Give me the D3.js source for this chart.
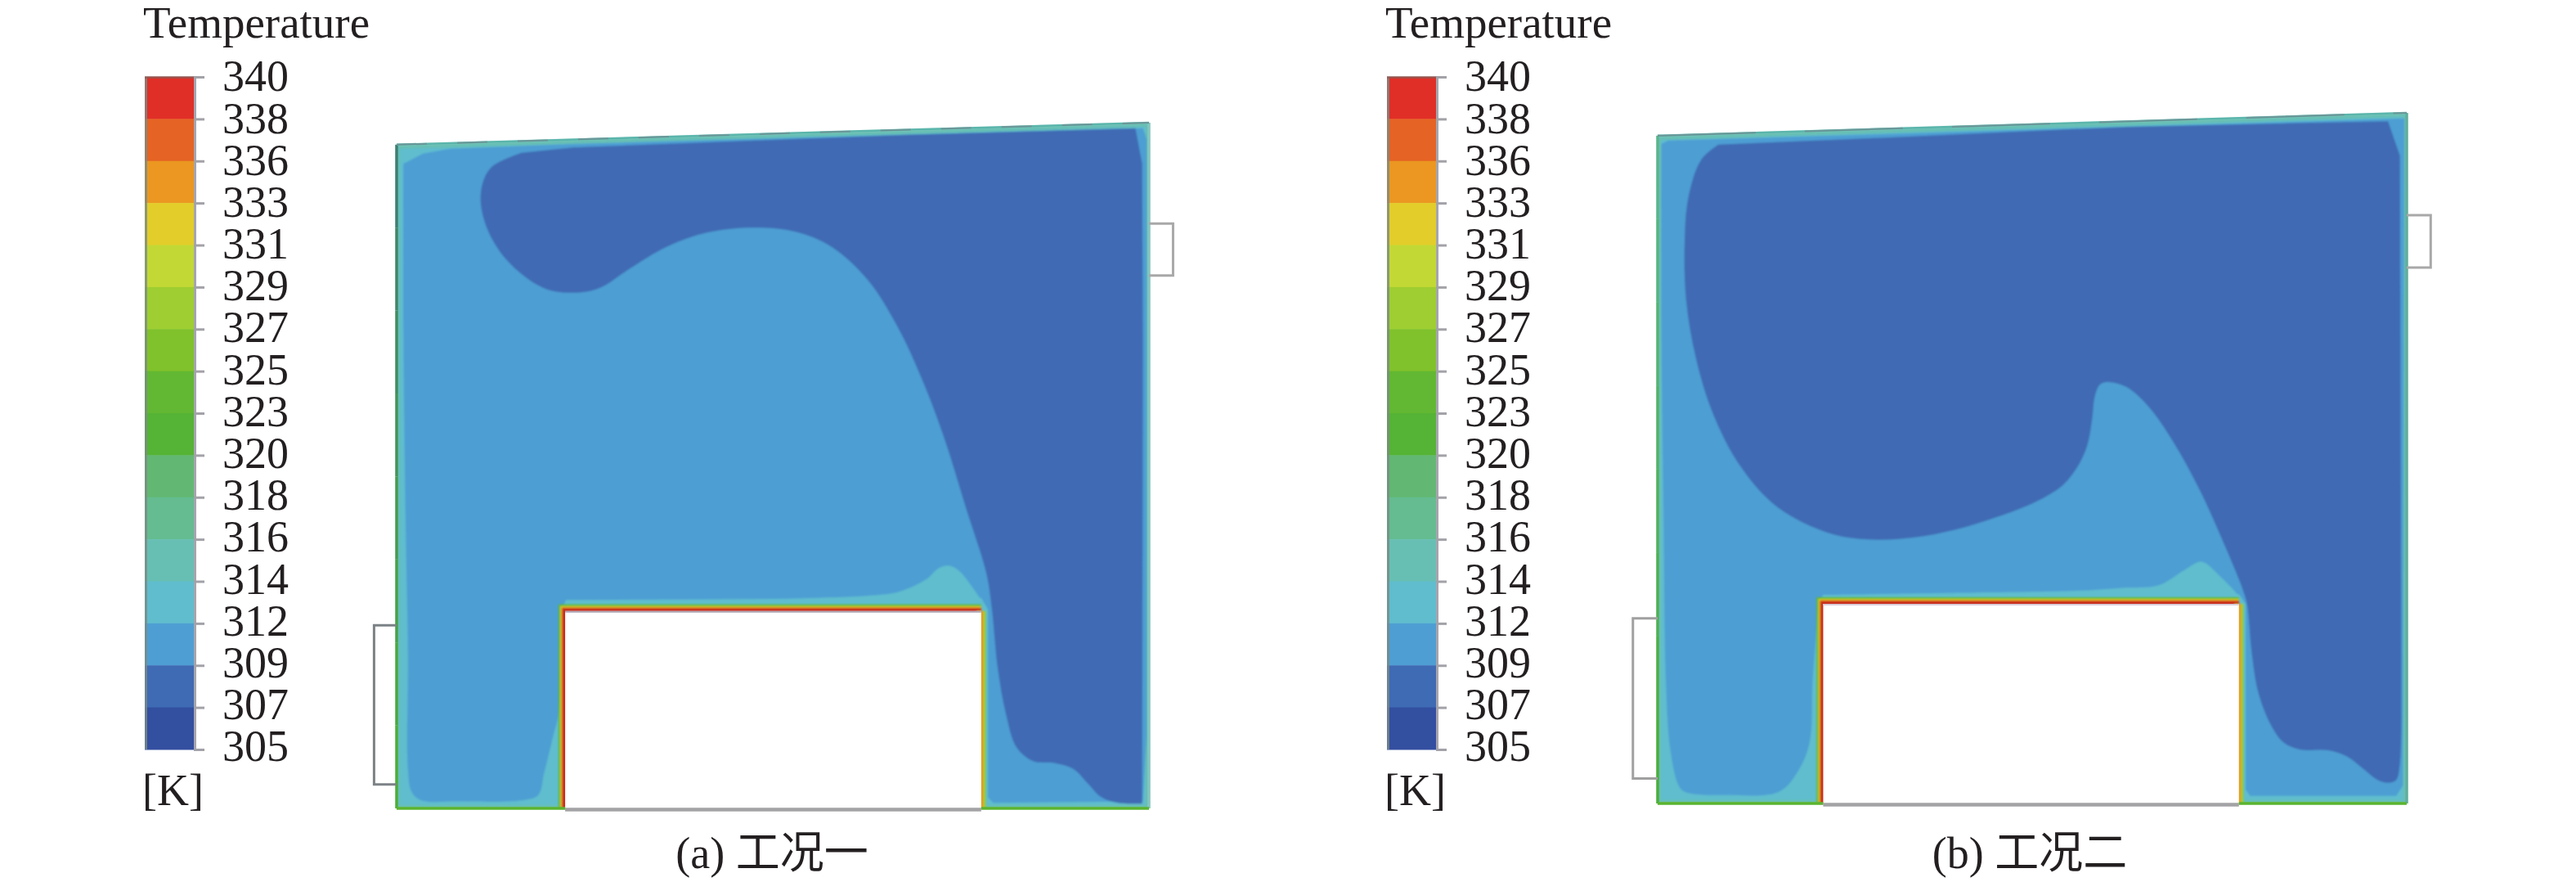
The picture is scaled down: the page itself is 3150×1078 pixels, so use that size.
<!DOCTYPE html>
<html>
<head>
<meta charset="utf-8">
<script src="https://cdn.jsdelivr.net/npm/d3@7"></script>
<style>
  html, body { margin: 0; background: #fff; }
  svg { display: block; }
  text { font-family: "Liberation Serif", "Noto Sans CJK SC", serif; fill: #231f20; }
</style>
</head>
<body>
<svg id="chart" width="3150" height="1078"></svg>
<script>
// legend: temperature labels, top to bottom, and one colour per band between them
const tempLabels = [340, 338, 336, 333, 331, 329, 327, 325, 323, 320, 318, 316, 314, 312, 309, 307, 305];
const bandColors = ["#e02f27", "#e56324", "#eb9721", "#e2cd2a", "#c2d935", "#9ece31", "#80c22b", "#62b832",
  "#55b335", "#62b872", "#64bc90", "#67bfb3", "#5fbdce", "#4e9ed3", "#3f6ab4", "#334fa0"];
const captions = ["(a) 工况一", "(b) 工况二"];

// contours are [x, y] in percent of the panel width / height
// Smooth = read along the curved part, Edge = straight run along the walls
const oneDarkSmooth = [[16.6, 95.6], [12.5, 93.4], [11.2, 89.9], [11.8, 85.2], [14.6, 80.0], [19.5, 75.9], [23.5, 75.2],
  [27.0, 75.9], [31.1, 78.8], [35.9, 81.9], [41.4, 84.0], [47.5, 84.7], [53.0, 84.1], [57.8, 81.9], [62.6, 77.1],
  [66.7, 70.0], [70.2, 61.6], [72.9, 53.6], [75.7, 43.7], [78.4, 34.2], [79.1, 29.2], [79.9, 20.4], [81.0, 13.7],
  [82.4, 8.9], [84.6, 6.9], [87.5, 6.6], [90.0, 5.7], [91.8, 3.7], [93.7, 1.6], [95.9, 0.8], [99.1, 0.7]];
const oneDarkEdge = [[99.2, 67.8], [99.1, 94.0], [98.2, 99.2], [66.8, 98.2], [23.4, 96.4]];
const oneMidSmooth = [[0.9, 94.0], [0.9, 70.2], [1.2, 41.5], [1.5, 22.4], [1.5, 5.7], [2.0, 2.4], [3.2, 1.2], [8.2, 1.0],
  [16.8, 1.2], [18.8, 1.9], [19.6, 5.1], [20.8, 10.5], [21.6, 14.1], [21.8, 22.4], [22.0, 29.0]];
const oneMidEdge = [[22.5, 30.4], [77.7, 30.7], [78.6, 29.0], [78.6, 1.6], [79.3, 0.8], [99.2, 1.0], [99.7, 10.5],
  [99.7, 97.6], [99.2, 99.2], [23.4, 96.9], [7.1, 96.2], [3.5, 95.5]];
const oneBump = [[22.5, 30.2], [45.1, 30.4], [56.0, 30.7], [62.5, 31.0], [66.8, 31.6], [70.4, 33.4], [72.0, 35.0],
  [73.4, 35.4], [74.8, 34.6], [76.3, 32.6], [77.7, 30.4]];
const oneOutline = [[0, 96.8], [100, 100], [100, 0], [0, 0]];
const oneObstacle = [[22.4, 0], [22.4, 28.8], [77.7, 28.8], [77.7, 0]];
const oneBrackets = [[[0, 26.7], [-3.0, 26.7], [-3.0, 3.5], [0, 3.5]], [[100, 85.3], [103.2, 85.3], [103.2, 77.7], [100, 77.7]]];

const twoDarkSmooth = [[8.1, 95.4], [5.8, 93.2], [4.1, 87.8], [3.6, 81.3], [3.8, 72.9], [5.1, 64.5], [7.4, 56.4],
  [11.0, 48.9], [16.0, 42.9], [23.3, 39.0], [28.7, 38.2], [34.2, 38.5], [39.6, 39.6], [45.1, 41.4], [50.5, 43.7],
  [54.1, 46.1], [56.3, 49.2], [57.4, 52.0], [58.0, 55.6], [58.4, 59.1], [59.1, 60.7], [60.4, 61.0], [62.6, 60.3],
  [65.5, 57.5], [68.8, 52.4], [72.4, 45.3], [76.0, 36.6], [78.2, 30.7], [78.7, 28.7], [79.3, 21.9], [80.2, 16.0],
  [81.9, 11.3], [83.6, 8.8], [85.8, 7.8], [89.5, 7.7], [92.0, 6.8], [94.2, 5.0], [96.1, 3.4], [97.5, 3.0], [98.6, 3.4],
  [99.1, 5.8], [99.3, 12.9]];
const twoDarkEdge = [[99.1, 93.8], [97.5, 98.8], [62.6, 98.0], [29.8, 96.4]];
const twoMidSmooth = [[0.5, 95.5], [0.5, 69.0], [0.8, 40.5], [1.1, 17.7], [1.7, 7.7], [2.8, 2.6], [3.6, 1.7], [9.5, 1.2],
  [16.2, 1.7], [18.7, 4.6], [20.3, 8.9], [20.7, 17.7], [21.4, 27.5]];
const twoMidEdge = [[22.05, 30.2], [77.6, 30.3], [78.5, 28.9], [78.5, 2.0], [79.1, 1.1], [98.6, 1.1], [99.5, 2.6],
  [99.7, 99.2], [1.4, 96.0]];
const twoBump = [[22.05, 30.2], [40.7, 30.5], [56.0, 30.8], [61.8, 31.2], [66.9, 31.6], [70.2, 33.7], [72.6, 35.0],
  [74.9, 33.1], [77.6, 30.1]];
const twoOutline = [[0, 96.7], [100, 100], [100, 0], [0, 0]];
const twoObstacle = [[22.1, 0], [22.1, 28.9], [77.6, 28.9], [77.6, 0]];
const twoBrackets = [[[0, 26.8], [-3.3, 26.8], [-3.3, 3.6], [0, 3.6]], [[100, 85.2], [103.2, 85.2], [103.2, 77.6], [100, 77.6]]];

// temperature -> band colour
const bandColor = d3.scaleThreshold()
  .domain(tempLabels.slice(1, -1).reverse())
  .range(bandColors.slice().reverse());

const svg = d3.select("#chart");

const defs = svg.append("defs");
defs.append("filter").attr("id", "soft")
  .append("feGaussianBlur").attr("stdDeviation", 0.8);

function drawLegend(left) {
  const g = svg.append("g").attr("transform", `translate(${left},0)`);

  g.append("text").attr("x", -2).attr("y", 46).attr("font-size", 55).text("Temperature");

  const y = d3.scalePoint().domain(tempLabels).range([94, 916]);
  const labelY = d3.scalePoint().domain(tempLabels).range([93, 912]);
  const bands = d3.scaleBand().domain(bandColors).range([94, 916]);

  g.selectAll("rect.band")
    .data(bandColors)
    .enter()
    .append("rect")
    .attr("class", "band")
    .attr("x", 0)
    .attr("y", (d) => bands(d))
    .attr("width", 60)
    .attr("height", bands.bandwidth() + 0.5)
    .attr("fill", (d) => d);

  // grey frame of the bar
  g.append("rect").attr("x", 0).attr("y", 94).attr("width", 3).attr("height", 822).attr("fill", "#7b8a84").attr("opacity", 0.8);
  g.append("rect").attr("x", 60).attr("y", 94).attr("width", 3).attr("height", 822).attr("fill", "#a5a5ae");
  g.append("rect").attr("x", 0).attr("y", 93).attr("width", 60).attr("height", 3).attr("fill", "#8a5a55").attr("opacity", 0.7);

  const axis = g.append("g")
    .attr("transform", "translate(60,0)")
    .call(d3.axisRight(y).tickSize(13).tickPadding(22));

  axis.select(".domain").remove();
  axis.selectAll("line").attr("stroke", "#a2a2a8").attr("stroke-width", 3);
  axis.selectAll("text")
    .attr("font-size", 54)
    .attr("font-family", "Liberation Serif")
    .attr("y", (d) => labelY(d) - y(d))
    .attr("dy", "0.33em");

  g.append("text").attr("x", -3).attr("y", 984).attr("font-size", 54).text("[K]");
}

function drawPanel(p) {
  const x = d3.scaleLinear().domain([0, 100]).range(p.xRange);
  const y = d3.scaleLinear().domain([0, 100]).range(p.yRange);
  const straight = d3.line().x((d) => x(d[0])).y((d) => y(d[1]));
  const smooth = d3.line().x((d) => x(d[0])).y((d) => y(d[1])).curve(d3.curveCatmullRom.alpha(0.5));

  // curved run first, then straight to the wall points, then close
  const region = (curve, edge) =>
    smooth(curve) + edge.map((d) => `L${x(d[0])},${y(d[1])}`).join("") + "Z";

  const g = svg.append("g");
  const field = g.append("g").attr("filter", "url(#soft)");

  field.append("path").attr("d", straight(p.outline) + "Z").attr("fill", bandColor(315));
  const inset = p.outline.map((d) => [d[0] < 50 ? 0.45 : 99.55, d[1] < 50 ? 0.5 : d[1] - 0.6]);
  field.append("path").attr("d", straight(inset) + "Z").attr("fill", bandColor(313));
  field.append("path").attr("d", region(p.midSmooth, p.midEdge)).attr("fill", bandColor(310));
  field.append("path")
    .attr("d", region(p.bump, [[p.bump[p.bump.length - 1][0], 29], [p.bump[0][0], 29]]))
    .attr("fill", bandColor(313));
  field.append("path").attr("d", region(p.darkSmooth, p.darkEdge)).attr("fill", bandColor(308));

  // heated block: nested strokes give the tight gradient round it
  const topLeft = p.obstacle.slice(0, 3);
  const right = p.obstacle.slice(2);
  const hotWalls = g.append("g").attr("fill", "none").attr("filter", "url(#soft)");
  [[bandColor(324), 16], [bandColor(330), 12], [bandColor(334), 10], ["#c8291f", 7]].forEach((s) => {
    hotWalls.append("path").attr("d", straight(topLeft)).attr("stroke", s[0]).attr("stroke-width", s[1]);
  });
  [[bandColor(328), 11], [bandColor(334), 5]].forEach((s) => {
    hotWalls.append("path").attr("d", straight(right)).attr("stroke", s[0]).attr("stroke-width", s[1]);
  });
  g.append("path").attr("d", straight(p.obstacle) + "Z").attr("fill", "#fff");
  g.append("path").attr("d", straight(topLeft.slice(1))).attr("stroke", p.innerLine).attr("stroke-width", 2).attr("transform", "translate(0,1)").attr("fill", "none");

  // outer walls, colours run from the top of the left wall down
  const h = p.outline[0][1];
  const walls = g.append("g").attr("fill", "none").attr("stroke-width", 3.5);
  const leftMix = d3.interpolateRgb(p.upperLeftWall, "#4cae3a");
  d3.range(0, 8).forEach((i) => {
    walls.append("path")
      .attr("d", straight([[0, h * (1 - i / 8)], [0, h * (1 - (i + 1) / 8)]]))
      .attr("stroke", leftMix(i / 7));
  });
  walls.append("path").attr("d", straight([[100, 100], [100, 0]])).attr("stroke", p.rightWall);
  walls.append("path").attr("d", straight([[0, 0], [p.obstacle[0][0], 0]])).attr("stroke", "#5bb42f");
  walls.append("path").attr("d", straight([[p.obstacle[3][0], 0], [100, 0]])).attr("stroke", "#5bb42f");
  walls.append("path").attr("d", straight([p.obstacle[0], p.obstacle[3]])).attr("stroke", "#a3a3a6").attr("stroke-width", 4.5).attr("transform", "translate(0,1.5)");
  walls.append("path").attr("d", straight([[0, h], [100, 100]])).attr("stroke", "#5ab5ab").attr("stroke-width", 2.5);
  walls.append("path").attr("d", straight([[0, h], [100, 100]])).attr("stroke", "#6f8f94").attr("stroke-width", 2).attr("stroke-opacity", 0.8).attr("stroke-dasharray", p.topDash);

  g.selectAll("path.bracket")
    .data(p.brackets)
    .enter()
    .append("path")
    .attr("class", "bracket")
    .attr("d", (d) => straight(d))
    .attr("fill", "none")
    .attr("stroke", (d, i) => (i === 0 ? p.bracketLeft : "#a8a8a8"))
    .attr("stroke-width", 3);

  svg.append("text")
    .attr("x", p.captionX)
    .attr("y", 1061)
    .attr("text-anchor", "middle")
    .attr("font-size", 54)
    .text(p.caption);
}

drawLegend(177);
drawLegend(1696);

drawPanel({
  xRange: [485, 1405], yRange: [988, 150],
  outline: oneOutline, obstacle: oneObstacle, brackets: oneBrackets,
  midSmooth: oneMidSmooth, midEdge: oneMidEdge, bump: oneBump,
  darkSmooth: oneDarkSmooth, darkEdge: oneDarkEdge,
  upperLeftWall: "#3e7f72", rightWall: "#83c6c0", topDash: "37 37", bracketLeft: "#7c8286", innerLine: "#aea4b4",
  caption: captions[0], captionX: 944
});

drawPanel({
  xRange: [2027, 2943], yRange: [982, 138],
  outline: twoOutline, obstacle: twoObstacle, brackets: twoBrackets,
  midSmooth: twoMidSmooth, midEdge: twoMidEdge, bump: twoBump,
  darkSmooth: twoDarkSmooth, darkEdge: twoDarkEdge,
  upperLeftWall: "#5ab58a", rightWall: "#5fae9e", topDash: "120 60", bracketLeft: "#a0a0a0", innerLine: "#d8ccd6",
  caption: captions[1], captionX: 2482
});
</script>
</body>
</html>
